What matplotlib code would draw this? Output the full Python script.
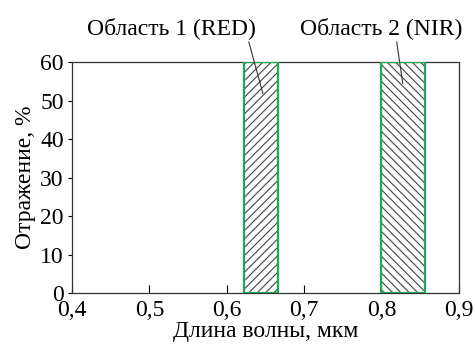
import matplotlib.pyplot as plt
import numpy as np

plt.rcParams["font.family"] = ["Liberation Serif", "DejaVu Serif"]
plt.rcParams["hatch.linewidth"] = 0.8

region_names = ["Область 1 (RED)", "Область 2 (NIR)"]
region_left = [0.622, 0.799]
region_right = [0.666, 0.856]
region_top = [60, 60]
hatches = ["////", "\\\\\\\\"]

# label positions and leader lines (data coords)
label_x = [0.5286, 0.80]
label_y = [68.8, 68.8]
leader_x = [[0.6287, 0.6468], [0.8199, 0.8277]]
leader_y = [[65.2, 51.9], [65.2, 54.5]]

xticks = [0.4, 0.5, 0.6, 0.7, 0.8, 0.9]
xticklabels = ["0,4", "0,5", "0,6", "0,7", "0,8", "0,9"]
yticks = [0, 10, 20, 30, 40, 50, 60]

fs = 17

fig = plt.figure(figsize=(4.75, 3.51), dpi=100)
ax = fig.add_axes([0.1516, 0.165, 0.814, 0.658])

left = np.array(region_left)
width = np.array(region_right) - left
for i in range(len(left)):
    ax.bar(left[i], region_top[i], width=width[i], align="edge",
           color="none", edgecolor="#444444", linewidth=0, hatch=hatches[i])
    ax.bar(left[i], region_top[i], width=width[i], align="edge",
           fill=False, edgecolor="#1aaa55", linewidth=1.6, zorder=3)
    ax.text(label_x[i], label_y[i], region_names[i], ha="center",
            va="center", fontsize=fs, clip_on=False)
    ax.plot(leader_x[i], leader_y[i], color="#333333", lw=0.8,
            clip_on=False, zorder=4)

ax.set_xlim(0.4, 0.9)
ax.set_ylim(0, 60)
ax.set_xticks(xticks)
ax.set_xticklabels(xticklabels)
ax.set_yticks(yticks)
ax.tick_params(axis="x", direction="in", length=6, width=0.8, labelsize=fs, pad=5)
ax.tick_params(axis="y", direction="out", length=3, width=0.8, labelsize=fs, pad=3)
for s in ax.spines.values():
    s.set_linewidth(0.9)
    s.set_color("#333333")

ax.set_xlabel("Длина волны, мкм", fontsize=fs, labelpad=0)
ax.set_ylabel("Отражение, %", fontsize=fs, labelpad=3)

fig.savefig("out.png", dpi=100)
